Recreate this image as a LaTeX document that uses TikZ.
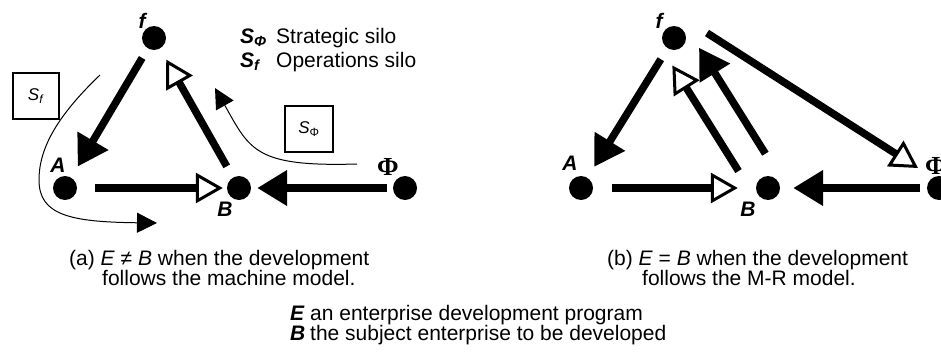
\documentclass[tikz,border=0pt]{standalone}
\usepackage{fontspec}
\setmainfont{Liberation Sans}
\newfontfamily\phifont{Liberation Serif}
\usetikzlibrary{arrows.meta,calc}

\tikzset{
  dot/.style={circle,fill=black,inner sep=0pt,minimum size=24pt},
  vname/.style={inner sep=0pt,font=\fontsize{21}{21}\selectfont\bfseries\itshape},
  phiname/.style={inner sep=0pt,font=\fontsize{26}{26}\selectfont\phifont\bfseries},
  solidarr/.style={line width=7.5pt,-{Triangle[length=30pt,width=34pt]}},
  openarr/.style={line width=7.5pt,-{Triangle[open,length=27pt,width=30pt,line width=3pt]}},
  silo/.style={line width=1pt,-{Triangle[length=20pt,width=20pt]}},
  silobox/.style={draw,line width=1.3pt,inner sep=0pt,minimum width=46pt,minimum height=46pt,font=\fontsize{17}{17}\selectfont},
  txt/.style={inner sep=0pt,anchor=base west,font=\fontsize{21}{21}\selectfont}
}

\begin{document}
\begin{tikzpicture}[x=1pt,y=-1pt]
\useasboundingbox (0,0) rectangle (941,356);

% (a) machine model
\node[dot] (lf) at (154,38) {};
\node[dot] (lA) at (65,188) {};
\node[dot] (lB) at (239,188) {};
\node[dot] (lPhi) at (405,188) {};
\node[vname] (lfname) at (142,21) {f};
\node[vname] (lAname) at (58,165) {A};
\node[vname] (lBname) at (225,209) {B};
\node[phiname] (lPhiname) at (388,167) {Φ};

\draw[solidarr,shorten <=11pt,shorten >=12.7pt] (lf) -- (lA);
\draw[openarr,shorten <=18pt,shorten >=4pt] (lA) -- (lB);
\draw[openarr,shorten <=12.7pt,shorten >=12.6pt] (lB) -- (lf);
\draw[solidarr,shorten <=6pt,shorten >=6pt] (lPhi) -- (lB);

% silos
\node[silobox] (sfbox) at (36,96) {\textit{S}\textsubscript{\textit{f}}};
\node[silobox,minimum width=48pt] (sphibox) at (309,129) {\textit{S}\textsubscript{Φ}};
\coordinate (sfTop) at (100,75);
\coordinate (sfEnd) at (157,223);
\draw[silo] (sfTop) .. controls (55,118) and (39,150) .. (39,180)
  .. controls (39,215) and (70,222) .. (sfEnd);
\coordinate (sphiStart) at (357,164);
\coordinate (sphiEnd) at (215,88);
\draw[silo] (sphiStart) .. controls (255,167) and (250,150) .. (sphiEnd);

% legend of silos
\node[txt] (legphi) at (240,43) {\makebox[36pt][l]{\bfseries\itshape S\textsubscript{Φ}}Strategic silo};
\node[txt] (legf) at (240,67) {\makebox[36pt][l]{\bfseries\itshape S\textsubscript{f}}Operations silo};

% (b) M-R model
\node[dot] (rf) at (674,38) {};
\node[dot] (rA) at (581,188) {};
\node[dot] (rB) at (768,188) {};
\node[dot] (rPhi) at (939,188) {};
\node[vname] (rfname) at (659,21) {f};
\node[vname] (rAname) at (570,163) {A};
\node[vname] (rBname) at (748,209) {B};
\node[phiname] (rPhiname) at (936,166) {Φ};

\draw[solidarr,shorten <=12.8pt,shorten >=12.7pt] (rf) -- (rA);
\draw[openarr,shorten <=19pt,shorten >=18pt] (rA) -- (rB);
\draw[openarr,shorten <=30pt,shorten >=22.4pt]
  ($(rB)!16pt!90:(rf)$) -- ($(rf)!16pt!-90:(rB)$);
\draw[solidarr,shorten <=30.4pt,shorten >=21.5pt]
  ($(rB)!16pt!-90:(rf)$) -- ($(rf)!16pt!90:(rB)$);
\draw[openarr] ($(rf)+(33,-5)$) -- ($(rPhi)+(-21,-20)$);
\draw[solidarr,shorten <=7pt,shorten >=13pt] (rPhi) -- (rB);

% captions
\node[txt] (capa1) at (69,265) {(a) \textit{E} ≠ \textit{B} when the development};
\node[txt] (capa2) at (102,285) {follows the machine model.};
\node[txt] (capb1) at (607,265) {(b) \textit{E} = \textit{B} when the development};
\node[txt] (capb2) at (642,285) {follows the M-R model.};
\node[txt] (legE) at (290,320) {\makebox[20pt][l]{\bfseries\itshape E}an enterprise development program};
\node[txt] (legB) at (290,340) {\makebox[20pt][l]{\bfseries\itshape B}the subject enterprise to be developed};
\end{tikzpicture}
\end{document}
